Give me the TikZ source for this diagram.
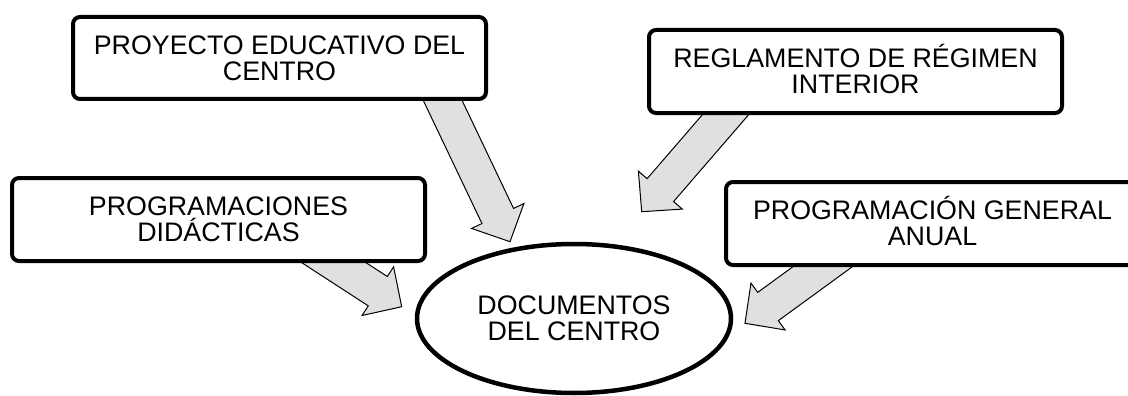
\documentclass[tikz,border=0pt]{standalone}
\usepackage{fontspec}
\setmainfont{Liberation Sans}
\usetikzlibrary{calc,shapes.geometric,backgrounds}
\definecolor{arrowgray}{RGB}{224,224,224}
\tikzset{
  docfont/.style={font=\fontsize{26.8}{26.2}\selectfont},
  docbox/.style={draw=black, line width=4pt, rounded corners=7pt, fill=white,
    minimum width=413pt, minimum height=83pt, inner sep=0pt, align=center, docfont},
  docellipse/.style={ellipse, draw=black, line width=4.5pt, fill=white,
    minimum width=314pt, minimum height=149pt, inner sep=0pt, align=center, docfont},
  blockarrow/.style={draw=black, line width=1pt, fill=arrowgray, line join=miter},
}
\newcommand\fatarrow[2]{%
  \coordinate (fa-tail) at ($(#1)!-35pt!(#2)$);
  \coordinate (fa-neck) at ($(#2)!28.5pt!(#1)$);
  \draw[blockarrow] ($(fa-tail)!17.5pt!90:(#2)$) -- ($(fa-neck)!17.5pt!90:(#2)$)
    -- ($(fa-neck)!29pt!90:(#2)$) -- (#2) -- ($(fa-neck)!29pt!-90:(#2)$)
    -- ($(fa-neck)!17.5pt!-90:(#2)$) -- ($(fa-tail)!17.5pt!-90:(#2)$) -- cycle;
}
\begin{document}
\begin{tikzpicture}[x=1pt, y=-1pt]
  \useasboundingbox (0,0) rectangle (1128,396);
  \begin{scope}
    \clip (0,0) rectangle (1128,396);
    \node[docbox, minimum height=82pt] (pec) at (279.5,58) {PROYECTO EDUCATIVO DEL\\CENTRO};
    \node[docbox] (pd) at (218.5,219.5) {PROGRAMACIONES\\DIDÁCTICAS};
    \node[docbox] (rri) at (855.5,71.5) {REGLAMENTO DE R\smash{É}GIMEN\\INTERIOR};
    \node[docbox] (pga) at (932.5,223.5) {PROGRAMACI\smash{Ó}N GENERAL\\ANUAL};
    \node[docellipse] (doc) at (574,318.5) {DOCUMENTOS\\DEL CENTRO};

    % shaft centres where the arrows leave the boxes, and arrow tips
    \coordinate (pec-out) at (442,99);
    \coordinate (pec-tip) at (510,241.7);
    \coordinate (pd-out) at (331.3,261);
    \coordinate (pd-tip) at (401.7,306.7);
    \coordinate (rri-out) at (727,113);
    \coordinate (rri-tip) at (641.7,211.7);
    \coordinate (pga-out) at (825,265);
    \coordinate (pga-tip) at (745,323.3);

    \begin{scope}[on background layer]
      \fatarrow{pec-out}{pec-tip}
      \fatarrow{pd-out}{pd-tip}
      \fatarrow{rri-out}{rri-tip}
      \fatarrow{pga-out}{pga-tip}
    \end{scope}
  \end{scope}
\end{tikzpicture}
\end{document}
